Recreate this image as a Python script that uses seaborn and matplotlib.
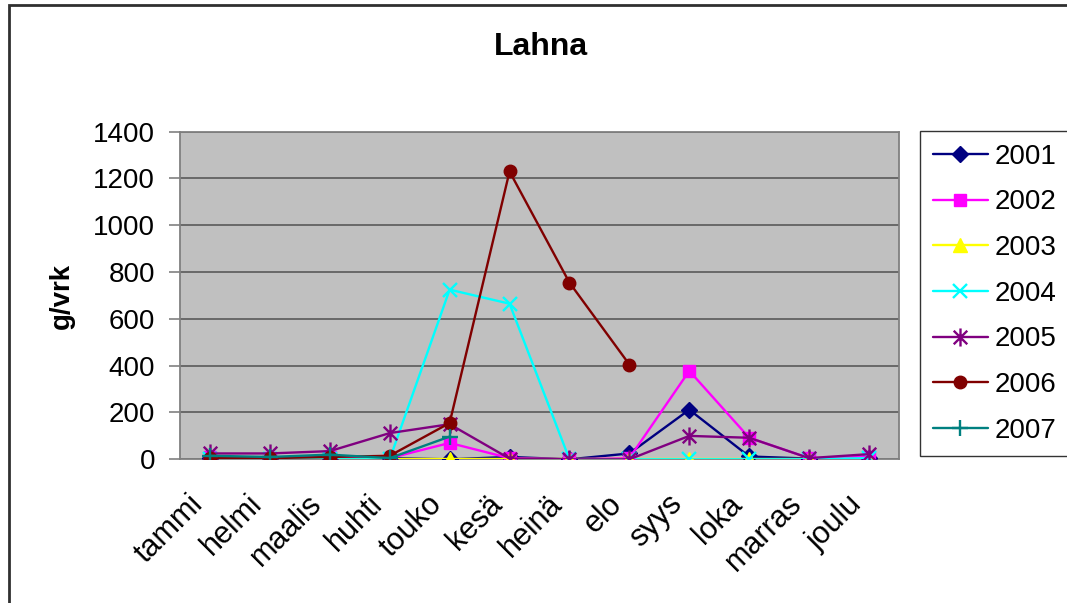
import numpy as np
import pandas as pd
import matplotlib
matplotlib.use("Agg")
import matplotlib.pyplot as plt
import seaborn as sns
from matplotlib.path import Path
from matplotlib.lines import Line2D
from matplotlib.patches import Rectangle
from matplotlib.transforms import ScaledTranslation

months = ["tammi", "helmi", "maalis", "huhti", "touko", "kesä",
          "heinä", "elo", "syys", "loka", "marras", "joulu"]
nan = np.nan
y2001 = [5, 5, 5, 5, 0, 10, 0, 25, 212, 12, 3, 5]
y2002 = [10, 5, 10, 5, 70, 5, 0, 5, 378, 92, 5, 10]
y2003 = [0, 0, 0, 0, 0, 0, 0, 0, 0, 0, 0, 0]
y2004 = [0, 0, 0, 0, 725, 665, 0, 0, 0, 0, 0, 5]
y2005 = [25, 25, 35, 112, 150, 3, 0, 0, 100, 92, 5, 22]
y2006 = [5, 5, 10, 15, 155, 1230, 755, 405, nan, nan, nan, nan]
y2007 = [15, 10, 20, 5, 97, nan, nan, nan, nan, nan, nan, nan]
years = ["2001", "2002", "2003", "2004", "2005", "2006", "2007"]
yticks = [0, 200, 400, 600, 800, 1000, 1200, 1400]

series = [y2001, y2002, y2003, y2004, y2005, y2006, y2007]
colors = ["#000080", "#FF00FF", "#FFFF00", "#00FFFF", "#800080", "#800000", "#008080"]

star = Path([(0, -1), (0, 1), (-0.75, -0.75), (0.75, 0.75), (-0.75, 0.75), (0.75, -0.75)],
            [Path.MOVETO, Path.LINETO] * 3)
markers = ["D", "s", "^", "x", star, "o", "+"]
msizes = [8, 8, 10, 10, 13, 9, 12]

sns.set_theme(style="white")
plt.rcParams["font.family"] = ["Liberation Sans", "DejaVu Sans"]
plt.rcParams["text.color"] = "black"
plt.rcParams["xtick.color"] = "black"
plt.rcParams["ytick.color"] = "black"

fig = plt.figure(figsize=(10.67, 6.03), dpi=100)
ax = fig.add_axes([180 / 1067, 1 - 459.3 / 603, 719 / 1067, 327.6 / 603])
ax.set_facecolor("#C0C0C0")

x = np.arange(len(months))
handles = []
for yr, vals, c, m, ms in zip(years, series, colors, markers, msizes):
    df = pd.DataFrame({"x": x, "y": vals}).dropna()
    mew = 1.7 if (m is star or m in ("x", "+")) else 1
    sns.lineplot(data=df, x="x", y="y", ax=ax, color=c, linewidth=1.7,
                 marker=m, markersize=ms, markeredgecolor=c, markerfacecolor=c,
                 markeredgewidth=mew, legend=False, zorder=3)
    handles.append(Line2D([], [], color=c, linewidth=1.7, marker=m, markersize=ms,
                          markeredgecolor=c, markerfacecolor=c, markeredgewidth=mew))

ax.set_xlim(-0.5, 11.5)
ax.set_ylim(0, 1400)
ax.set_yticks(yticks)
ax.set_yticklabels([str(v) for v in yticks], fontsize=20)
ax.yaxis.grid(True, color="#505050", linewidth=1.1)
ax.set_axisbelow(True)
ax.set_xlabel("")
ax.set_ylabel("")

ax.set_xticks(x)
ax.set_xticklabels(months, fontsize=22, rotation=45, ha="right", va="center",
                   rotation_mode="anchor")
ax.set_xticks(np.arange(-0.5, 12, 1), minor=True)
ax.tick_params(axis="x", which="major", length=0, pad=29)
ax.tick_params(axis="x", which="minor", length=8, width=1.2, color="#808080", direction="out")
ax.tick_params(axis="y", length=8, width=1.2, color="#808080", direction="out", pad=10, left=True)
for lab in ax.get_xticklabels():
    lab.set_transform(lab.get_transform() + ScaledTranslation(-0.12, 0, fig.dpi_scale_trans))

for s in ax.spines.values():
    s.set_visible(True)
    s.set_color("#808080")
    s.set_linewidth(1.3)

fig.text(62 / 1067, 1 - 296 / 603, "g/vrk", rotation=90, fontsize=20, fontweight="bold",
         ha="center", va="center")
fig.text(541 / 1067, 1 - 47 / 603, "Lahna", fontsize=23, fontweight="bold",
         ha="center", va="center")

leg = fig.legend(handles, years, loc="upper left", bbox_to_anchor=(920 / 1067, 1 - 131 / 603),
                 frameon=True, fancybox=False, edgecolor="#000000", fontsize=20,
                 handlelength=2.0, handletextpad=0.25, labelspacing=0.71, borderpad=0.45,
                 borderaxespad=0)
leg.get_frame().set_linewidth(1.0)

fig.patches.append(Rectangle((9 / 1067, -0.1), 1.2, 1 - 5.5 / 603 + 0.1,
                             transform=fig.transFigure, fill=False,
                             edgecolor="#303030", linewidth=2))

fig.savefig("out.png", dpi=100)
